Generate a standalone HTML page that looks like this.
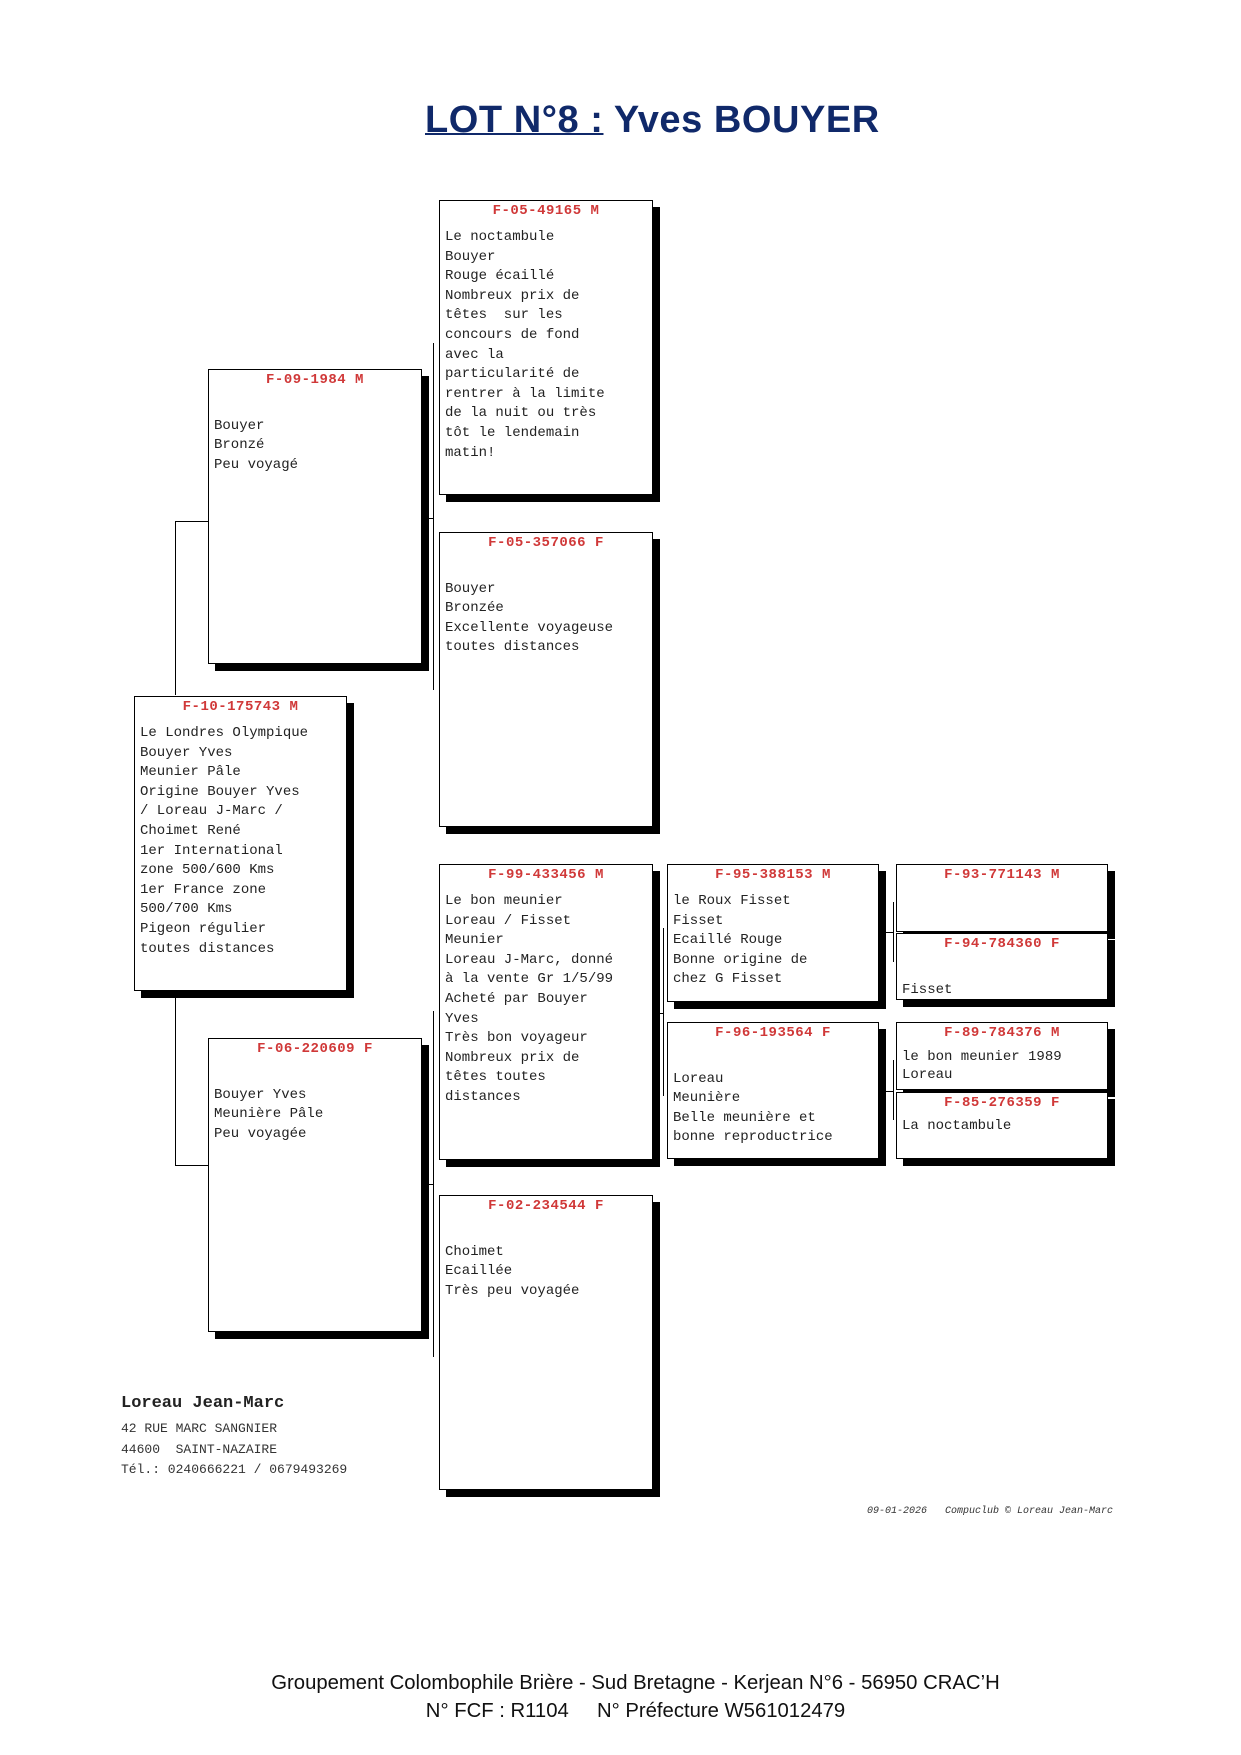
<!DOCTYPE html>
<html><head><meta charset="utf-8">
<style>
body{margin:0;width:1241px;height:1755px;background:#fff;position:relative;overflow:hidden}
.b{position:absolute;border:1px solid #000;background:#fff;box-shadow:7px 7px 0 #000;font-family:"Liberation Mono",monospace;font-size:14px;color:#222;box-sizing:border-box}
.h{position:absolute;left:0;right:0;top:1px;text-align:center;color:#d03838;font-weight:bold;line-height:18px;letter-spacing:0.5px}
.t{position:absolute;left:5px;top:27px;line-height:19.6px;white-space:pre}
.l{position:absolute;background:#000}
</style></head><body>
<div style="position:absolute;left:425px;top:99px;font-family:'Liberation Sans',sans-serif;font-weight:bold;font-size:38px;color:#10296a;letter-spacing:0.55px;white-space:nowrap"><span style="text-decoration:underline;text-decoration-thickness:2px">LOT N°8 :</span> Yves BOUYER</div>

<!-- connectors -->
<div class="l" style="left:175px;top:521px;width:1px;height:174px"></div>
<div class="l" style="left:175px;top:521px;width:33px;height:1px"></div>
<div class="l" style="left:175px;top:997px;width:1px;height:168px"></div>
<div class="l" style="left:175px;top:1165px;width:33px;height:1px"></div>
<div class="l" style="left:433px;top:343px;width:1px;height:347px"></div>
<div class="l" style="left:427px;top:518px;width:7px;height:1px"></div>
<div class="l" style="left:433px;top:1011px;width:1px;height:346px"></div>
<div class="l" style="left:427px;top:1184px;width:7px;height:1px"></div>
<div class="l" style="left:663px;top:928px;width:1px;height:168px"></div>
<div class="l" style="left:660px;top:1013px;width:4px;height:1px"></div>
<div class="l" style="left:893px;top:902px;width:1px;height:60px"></div>
<div class="l" style="left:886px;top:932px;width:8px;height:1px"></div>
<div class="l" style="left:893px;top:1060px;width:1px;height:60px"></div>
<div class="l" style="left:886px;top:1091px;width:8px;height:1px"></div>

<div class="b" style="left:439px;top:200px;width:214px;height:295px"><div class="h">F-05-49165 M</div><div class="t">Le noctambule
Bouyer
Rouge écaillé
Nombreux prix de
têtes  sur les
concours de fond
avec la
particularité de
rentrer à la limite
de la nuit ou très
tôt le lendemain
matin!</div></div>

<div class="b" style="left:208px;top:369px;width:214px;height:295px"><div class="h">F-09-1984 M</div><div class="t">
Bouyer
Bronzé
Peu voyagé</div></div>

<div class="b" style="left:439px;top:532px;width:214px;height:295px"><div class="h">F-05-357066 F</div><div class="t">
Bouyer
Bronzée
Excellente voyageuse
toutes distances</div></div>

<div class="b" style="left:134px;top:696px;width:213px;height:295px"><div class="h">F-10-175743 M</div><div class="t">Le Londres Olympique
Bouyer Yves
Meunier Pâle
Origine Bouyer Yves
/ Loreau J-Marc /
Choimet René
1er International
zone 500/600 Kms
1er France zone
500/700 Kms
Pigeon régulier
toutes distances</div></div>

<div class="b" style="left:439px;top:864px;width:214px;height:296px"><div class="h">F-99-433456 M</div><div class="t">Le bon meunier
Loreau / Fisset
Meunier
Loreau J-Marc, donné
à la vente Gr 1/5/99
Acheté par Bouyer
Yves
Très bon voyageur
Nombreux prix de
têtes toutes
distances</div></div>

<div class="b" style="left:208px;top:1038px;width:214px;height:294px"><div class="h">F-06-220609 F</div><div class="t">
Bouyer Yves
Meunière Pâle
Peu voyagée</div></div>

<div class="b" style="left:439px;top:1195px;width:214px;height:295px"><div class="h">F-02-234544 F</div><div class="t">
Choimet
Ecaillée
Très peu voyagée</div></div>

<div class="b" style="left:667px;top:864px;width:212px;height:138px"><div class="h">F-95-388153 M</div><div class="t">le Roux Fisset
Fisset
Ecaillé Rouge
Bonne origine de
chez G Fisset</div></div>

<div class="b" style="left:667px;top:1022px;width:212px;height:137px"><div class="h">F-96-193564 F</div><div class="t">
Loreau
Meunière
Belle meunière et
bonne reproductrice</div></div>

<div class="b" style="left:896px;top:864px;width:212px;height:68px"><div class="h">F-93-771143 M</div></div>
<div class="b" style="left:896px;top:933px;width:212px;height:67px"><div class="h">F-94-784360 F</div><div class="t">
Fisset</div></div>
<div class="b" style="left:896px;top:1022px;width:212px;height:68px"><div class="h">F-89-784376 M</div><div class="t" style="top:25px;line-height:18px">le bon meunier 1989
Loreau</div></div>
<div class="b" style="left:896px;top:1092px;width:212px;height:67px"><div class="h">F-85-276359 F</div><div class="t" style="top:24px">La noctambule</div></div>

<div style="position:absolute;left:121px;top:1394px;font-family:'Liberation Mono',monospace;font-weight:bold;font-size:17px;color:#222">Loreau Jean-Marc</div>
<div style="position:absolute;left:121px;top:1419px;font-family:'Liberation Mono',monospace;font-size:13px;line-height:20.5px;color:#333;white-space:pre">42 RUE MARC SANGNIER
44600  SAINT-NAZAIRE
Tél.: 0240666221 / 0679493269</div>

<div style="position:absolute;left:867px;top:1506px;font-family:'Liberation Mono',monospace;font-style:italic;font-size:10px;color:#333;white-space:pre">09-01-2026   Compuclub © Loreau Jean-Marc</div>

<div style="position:absolute;left:0;width:1241px;top:1669px;text-align:center;font-family:'Liberation Sans',sans-serif;font-size:20.3px;line-height:28px;color:#111;padding-left:30px;box-sizing:border-box">Groupement Colombophile Brière - Sud Bretagne - Kerjean N°6 - 56950 CRAC’H<br>N° FCF : R1104 &nbsp;&nbsp;&nbsp; N° Préfecture W561012479</div>
</body></html>
